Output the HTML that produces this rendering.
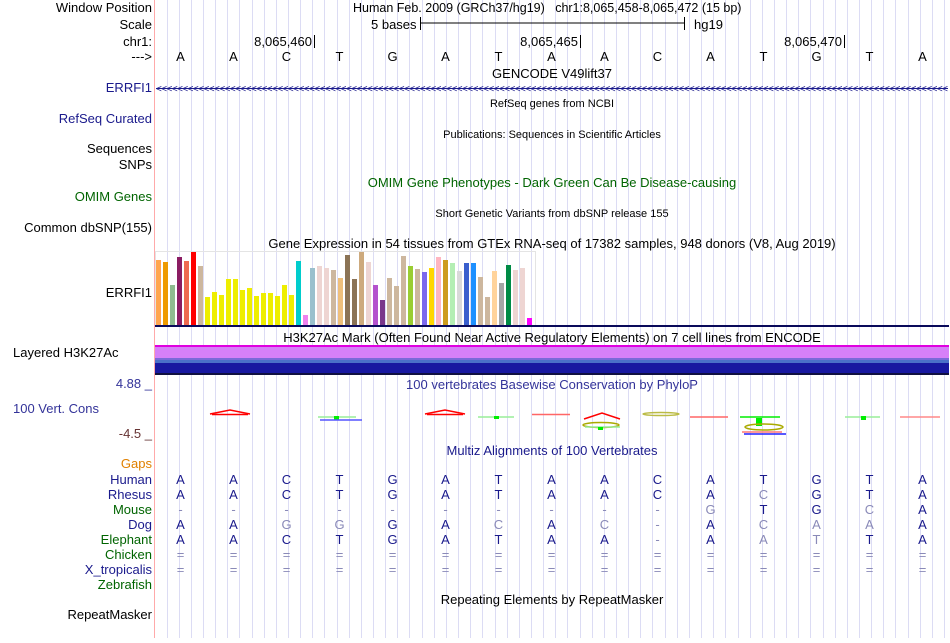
<!DOCTYPE html>
<html><head><meta charset="utf-8">
<style>
body{margin:0;background:#fff;}
svg text{font-family:"Liberation Sans",sans-serif;font-size:13px;}
</style></head><body>
<svg id="chart" width="950" height="638" xmlns="http://www.w3.org/2000/svg">
<g id="grid"></g>
<line x1="154.5" y1="0" x2="154.5" y2="638" stroke="#ffaaaa"/>
<g id="labels" text-anchor="end">
<text x="152" y="12">Window Position</text>
<text x="152" y="29">Scale</text>
<text x="152" y="46">chr1:</text>
<text x="152" y="61">---&gt;</text>
<text x="152" y="92" fill="#1a1a8c">ERRFI1</text>
<text x="152" y="123" fill="#1a1a8c">RefSeq Curated</text>
<text x="152" y="153">Sequences</text>
<text x="152" y="169">SNPs</text>
<text x="152" y="201" fill="#006400">OMIM Genes</text>
<text x="152" y="232">Common dbSNP(155)</text>
<text x="152" y="297">ERRFI1</text>
<text x="13" y="357" text-anchor="start">Layered H3K27Ac</text>
<text x="152" y="388" fill="#333399">4.88 _</text>
<text x="13" y="413" text-anchor="start" fill="#333399">100 Vert. Cons</text>
<text x="152" y="438" fill="#663333">-4.5 _</text>
<text x="152" y="468" fill="#e08000">Gaps</text>
<text x="152" y="484" fill="#1a1a8c">Human</text>
<text x="152" y="499" fill="#1a1a8c">Rhesus</text>
<text x="152" y="514" fill="#006400">Mouse</text>
<text x="152" y="529" fill="#1a1a8c">Dog</text>
<text x="152" y="544" fill="#006400">Elephant</text>
<text x="152" y="559" fill="#006400">Chicken</text>
<text x="152" y="574" fill="#1a1a8c">X_tropicalis</text>
<text x="152" y="589" fill="#006400">Zebrafish</text>
<text x="152" y="619">RepeatMasker</text>
</g>
<g>
<text x="353" y="12" style="font-size:12.5px" xml:space="preserve">Human Feb. 2009 (GRCh37/hg19)   chr1:8,065,458-8,065,472 (15 bp)</text>
<text x="371" y="29">5 bases</text>
<line x1="420" y1="23" x2="684" y2="23" stroke="#000"/>
<line x1="420.5" y1="17" x2="420.5" y2="30" stroke="#000"/>
<line x1="684.5" y1="17" x2="684.5" y2="30" stroke="#000"/>
<text x="694" y="29">hg19</text>
<text x="312" y="46" text-anchor="end">8,065,460</text><line x1="314.5" y1="35" x2="314.5" y2="48" stroke="#000"/>
<text x="578" y="46" text-anchor="end">8,065,465</text><line x1="580.5" y1="35" x2="580.5" y2="48" stroke="#000"/>
<text x="842" y="46" text-anchor="end">8,065,470</text><line x1="844.5" y1="35" x2="844.5" y2="48" stroke="#000"/>
</g>
<g id="bases" text-anchor="middle"></g>
<g text-anchor="middle">
<text x="552" y="78">GENCODE V49lift37</text>
<text x="552" y="107" style="font-size:11px">RefSeq genes from NCBI</text>
<text x="552" y="138" style="font-size:11px">Publications: Sequences in Scientific Articles</text>
<text x="552" y="187" fill="#006400">OMIM Gene Phenotypes - Dark Green Can Be Disease-causing</text>
<text x="552" y="217" style="font-size:11px">Short Genetic Variants from dbSNP release 155</text>
<text x="552" y="248">Gene Expression in 54 tissues from GTEx RNA-seq of 17382 samples, 948 donors (V8, Aug 2019)</text>
<text x="552" y="342">H3K27Ac Mark (Often Found Near Active Regulatory Elements) on 7 cell lines from ENCODE</text>
<text x="552" y="389" fill="#333399">100 vertebrates Basewise Conservation by PhyloP</text>
<text x="552" y="455" fill="#1a1a8c">Multiz Alignments of 100 Vertebrates</text>
<text x="552" y="604">Repeating Elements by RepeatMasker</text>
</g>
<g>
<line x1="156" y1="88.5" x2="948" y2="88.5" stroke="#1a1a8c"/>
<text id="arrows" x="156" y="92" fill="#1a1a8c" textLength="792" lengthAdjust="spacing" style="font-size:10px"></text>
</g>
<g id="gtex"></g>
<rect x="155" y="325" width="794" height="2" fill="#0a0a5a"/>
<g>
<rect x="155" y="345" width="794" height="2" fill="#e000e0"/>
<rect x="155" y="347" width="794" height="11" fill="#d680f8"/>
<rect x="155" y="358" width="794" height="2" fill="#7a6ad8"/>
<rect x="155" y="360" width="794" height="3" fill="#4a70c8"/>
<rect x="155" y="363" width="794" height="10" fill="#1818a0"/>
<rect x="155" y="373" width="794" height="2" fill="#101040"/>
</g>
<g fill="none" stroke-width="1.5">
<path d="M210 414 L230 410 L250 414" stroke="#f00"/><line x1="212" y1="414.5" x2="248" y2="414.5" stroke="#f00"/>
<line x1="318" y1="417" x2="356" y2="417" stroke="#9e9"/><rect x="334" y="416" width="5" height="4" fill="#0e0" stroke="none"/><line x1="320" y1="420" x2="362" y2="420" stroke="#55f"/>
<path d="M425 414 L445 410 L465 414" stroke="#f00"/><line x1="427" y1="414.5" x2="463" y2="414.5" stroke="#f00"/>
<line x1="478" y1="417" x2="514" y2="417" stroke="#9e9"/><rect x="494" y="416" width="5" height="3" fill="#0e0" stroke="none"/>
<line x1="532" y1="414.5" x2="570" y2="414.5" stroke="#f66"/>
<path d="M584 419 L602 413 L620 419" stroke="#f00"/><ellipse cx="601" cy="425" rx="18" ry="2.5" stroke="#aa0"/><line x1="585" y1="427" x2="620" y2="427" stroke="#9e9"/><rect x="598" y="427" width="5" height="3" fill="#0e0" stroke="none"/>
<ellipse cx="661" cy="414" rx="18" ry="1.5" stroke="#bb4"/>
<line x1="690" y1="417" x2="728" y2="417" stroke="#f66"/>
<line x1="740" y1="417" x2="780" y2="417" stroke="#0e0"/><rect x="756" y="418" width="6" height="8" fill="#0e0" stroke="none"/><ellipse cx="764" cy="427" rx="19" ry="3" stroke="#aa0"/><line x1="742" y1="432" x2="782" y2="432" stroke="#f77"/><line x1="744" y1="434" x2="786" y2="434" stroke="#22f"/>
<line x1="845" y1="417" x2="880" y2="417" stroke="#9e9"/><rect x="861" y="416" width="5" height="4" fill="#0e0" stroke="none"/>
<line x1="900" y1="417" x2="940" y2="417" stroke="#f88"/>
</g>
<g id="multiz" text-anchor="middle"></g>
</svg>
<script>
const seq = "AACTGATAACATGTA";
const gtexValues = [65,63,40,68,64,73,59,28,33,30,46,46,35,37,29,32,32,29,40,30,64,10,57,59,57,55,47,70,46,73,63,40,25,47,39,69,59,56,53,57,68,65,62,54,62,62,48,28,54,42,60,55,57,7];
const gtexColors = ["#FFA54F","#EE9A00","#8FBC8F","#8B1C62","#EE6A50","#FF0000","#CDB79E","#EEEE00","#EEEE00","#EEEE00","#EEEE00","#EEEE00","#EEEE00","#EEEE00","#EEEE00","#EEEE00","#EEEE00","#EEEE00","#EEEE00","#EEEE00","#00CDCD","#EE82EE","#9AC0CD","#EED5D2","#EED5D2","#CDB79E","#EEBF7B","#8B7355","#8B7355","#CDAA7D","#EED5D2","#B452CD","#7A378B","#CDB79E","#CDB79E","#CDB79E","#9ACD32","#CDB79E","#7B68EE","#FFD700","#FFB6C1","#CD9B1D","#B4EEB4","#D9D9D9","#3A5FCD","#1E90FF","#CDB79E","#CDB79E","#FFD39B","#A6A6A6","#008B45","#EED5D2","#EED5D2","#FF00FF"];
const species = ["Human","Rhesus","Mouse","Dog","Elephant","Chicken","X_tropicalis"];
const alignRows = ["AACTGATAACATGTA","AACTGATAACACGTA","----------GTGCA","AAGGGACAC-ACAAA","AACTGATAA-AATTA","===============","==============="];
const ns="http://www.w3.org/2000/svg";
const baseX = i => 154 + 53 * (i + 0.5);
function mk(tag, attrs, parent){const e=document.createElementNS(ns,tag);for(const k in attrs)e.setAttribute(k,attrs[k]);parent.appendChild(e);return e;}
const grid=document.getElementById('grid');
for(let x=166.5;x<950;x+=12.15){const l=mk('line',{x1:Math.round(x)+0.5,y1:0,x2:Math.round(x)+0.5,y2:638,stroke:'#dcdcf4'},grid);

}
const bases=document.getElementById('bases');
for(let i=0;i<seq.length;i++){const t=mk('text',{x:baseX(i),y:61},bases);t.textContent=seq[i];

}
document.getElementById('arrows').textContent="<".repeat(150);
const gy=d=>325-d;
const gtex=document.getElementById('gtex');
gtexValues.forEach((v,i)=>{const r=mk('rect',{x:156+7*i,y:gy(v),width:5,height:v,fill:gtexColors[i]},gtex);

});
mk('rect',{x:155.5,y:251.5,width:380,height:74,fill:'none',stroke:'#e4e4e4'},gtex);
const mz=document.getElementById('multiz');
alignRows.forEach((row,r)=>{for(let i=0;i<row.length;i++){const c=row[i];
const match=(c===seq[i]);
const t=mk('text',{x:baseX(i),y:484+15*r,fill:match?'#1a1a8c':'#8a8ab8'},mz);t.textContent=c;

}});
</script>
</body></html>
